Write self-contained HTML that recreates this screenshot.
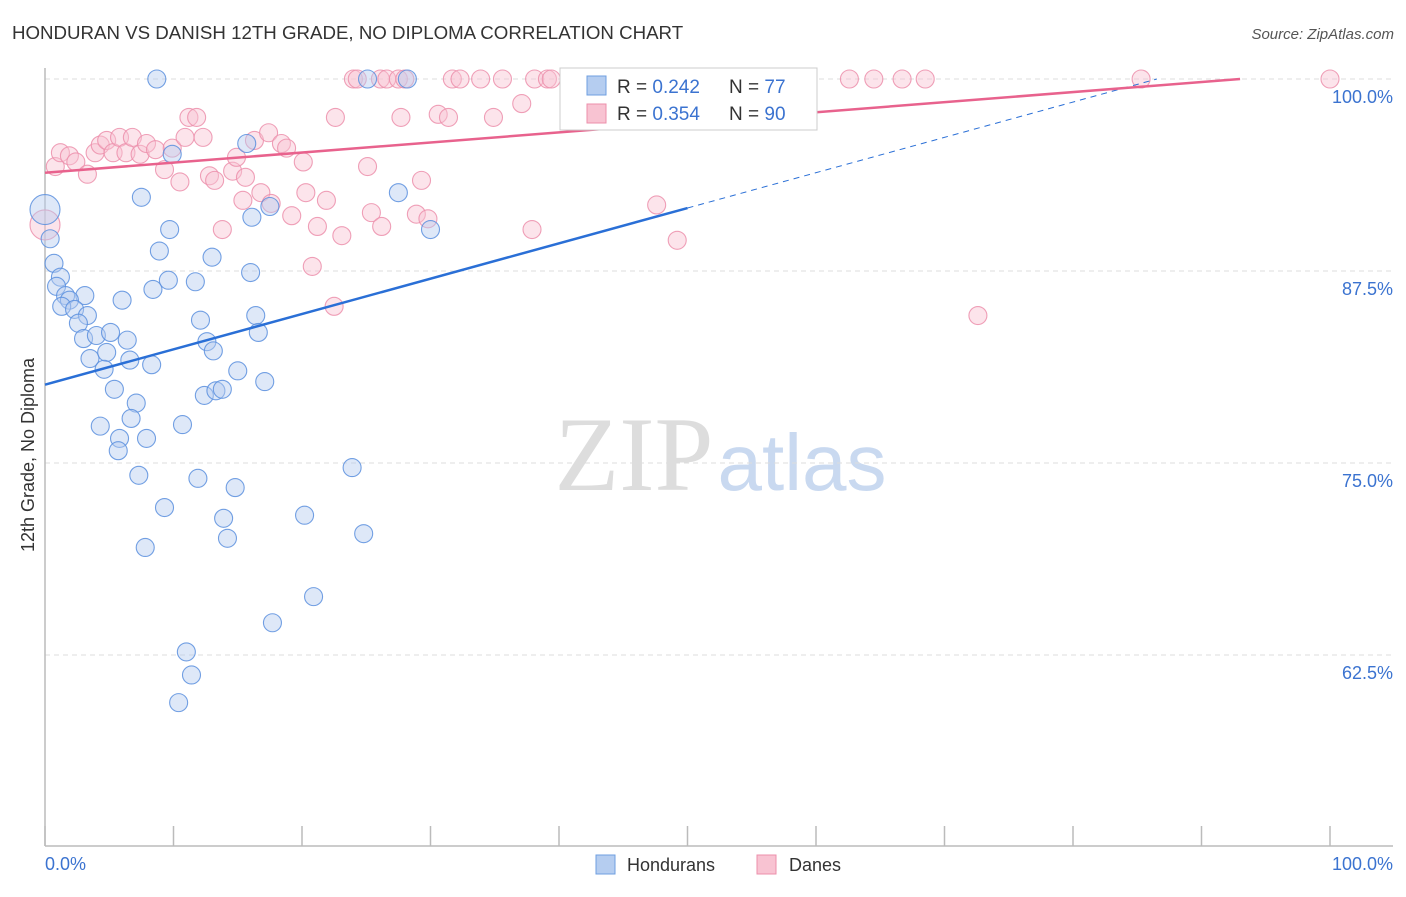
<!DOCTYPE html>
<html><head><meta charset="utf-8"><style>
body{margin:0;background:#fff;font-family:"Liberation Sans",sans-serif;}
svg text{font-family:"Liberation Sans",sans-serif;}
</style></head><body>
<svg id="chart" width="1406" height="892" viewBox="0 0 1406 892">
<text x="12" y="39" font-size="18.7" fill="#333">HONDURAN VS DANISH 12TH GRADE, NO DIPLOMA CORRELATION CHART</text>
<text x="1394" y="39" font-size="15" fill="#555" font-style="italic" text-anchor="end">Source: ZipAtlas.com</text>
<text transform="translate(34,455) rotate(-90)" font-size="18" fill="#333" text-anchor="middle">12th Grade, No Diploma</text>
<g><text x="634" y="490" font-size="106" fill="#ddd" text-anchor="middle" font-family="Liberation Serif" style="font-family:'Liberation Serif',serif">ZIP</text><text x="802" y="490" font-size="80" fill="#c9d9f0" text-anchor="middle">atlas</text></g>
<g id="grid"></g><g id="axes"></g><g id="pts"></g><g id="lines"></g>
<g>
<rect x="560" y="68" width="257" height="62" fill="#fff" stroke="#ccc"/>
<rect x="587" y="76" width="19" height="19" fill="#b5cdf0" stroke="#6f9fe0"/>
<text x="617" y="93" font-size="19" fill="#333">R = <tspan fill="#3b73d0">0.242</tspan></text>
<text x="729" y="93" font-size="19" fill="#333">N = <tspan fill="#3b73d0">77</tspan></text>
<rect x="587" y="104" width="19" height="19" fill="#f8c3d2" stroke="#ec8fab"/>
<text x="617" y="120" font-size="19" fill="#333">R = <tspan fill="#3b73d0">0.354</tspan></text>
<text x="729" y="120" font-size="19" fill="#333">N = <tspan fill="#3b73d0">90</tspan></text>
</g>
<g>
<rect x="596" y="855" width="19" height="19" fill="#b5cdf0" stroke="#6f9fe0"/>
<text x="627" y="871" font-size="18" fill="#333">Hondurans</text>
<rect x="757" y="855" width="19" height="19" fill="#f8c3d2" stroke="#ec8fab"/>
<text x="789" y="871" font-size="18" fill="#333">Danes</text>
</g>
</svg>
<script>
const yTicks=[100,87.5,75,62.5];
const yTickLabels=["100.0%","87.5%","75.0%","62.5%"];
const xTickCount=11;
const blueX=[8.7,25.1,28.2,41.5,0,0.4,0.7,1.2,0.9,1.6,3.1,1.9,1.3,2.3,3.3,2.6,6.0,7.5,9.7,8.9,13.0,16.0,8.4,9.6,11.7,12.1,16.4,16.6,3.0,4.0,5.1,6.4,3.5,4.8,6.6,4.6,8.3,12.6,13.1,5.4,15.0,17.1,7.1,12.4,13.3,13.8,6.7,4.3,10.7,5.8,7.9,5.7,7.3,11.9,14.8,9.3,13.9,14.2,20.2,7.8,23.9,24.8,20.9,17.7,11.0,11.4,10.4,15.7,9.9,16.1,17.5,27.5,30.0];
const blueY=[100,100,100,100,91.5,89.6,88.0,87.1,86.5,85.9,85.9,85.6,85.2,85.0,84.6,84.1,85.6,92.3,90.2,88.8,88.4,87.4,86.3,86.9,86.8,84.3,84.6,83.5,83.1,83.3,83.5,83.0,81.8,82.2,81.7,81.1,81.4,82.9,82.3,79.8,81.0,80.3,78.9,79.4,79.7,79.8,77.9,77.4,77.5,76.6,76.6,75.8,74.2,74.0,73.4,72.1,71.4,70.1,71.6,69.5,74.7,70.4,66.3,64.6,62.7,61.2,59.4,95.8,95.1,91.0,91.7,92.6,90.2];
const pinkX=[24.0,24.3,26.1,26.6,27.5,28.0,31.7,32.3,33.9,35.6,38.1,39.1,39.4,41.4,44.7,47.1,50.2,52.0,52.3,62.6,64.5,66.7,68.5,85.3,100,0,0.8,1.2,1.9,2.4,3.3,3.9,4.3,4.8,5.3,5.8,6.3,6.8,7.4,7.9,8.6,9.3,9.9,10.5,10.9,11.2,11.8,12.3,12.8,13.2,13.8,14.6,14.9,15.4,15.6,16.3,16.8,17.4,17.6,18.4,18.8,19.2,20.1,20.3,21.2,20.8,21.9,22.6,23.1,22.5,25.1,25.4,26.2,27.7,28.9,29.3,29.8,30.6,31.4,34.9,37.1,37.9,47.6,49.2,72.6];
const pinkY=[100,100,100,100,100,100,100,100,100,100,100,100,100,100,100,100,100,100,100,100,100,100,100,100,100,90.5,94.3,95.2,95.0,94.6,93.8,95.2,95.7,96.0,95.2,96.2,95.2,96.2,95.1,95.8,95.4,94.1,95.5,93.3,96.2,97.5,97.5,96.2,93.7,93.4,90.2,94.0,94.9,92.1,93.6,96.0,92.6,96.5,91.9,95.8,95.5,91.1,94.6,92.6,90.4,87.8,92.1,97.5,89.8,85.2,94.3,91.3,90.4,97.5,91.2,93.4,90.9,97.7,97.5,97.5,98.4,90.2,91.8,89.5,84.6];
const blueTrend=[80.1,91.6];
const pinkTrend=[93.9,100];
const X0=45,X1=1330,Y0=79,Ypx=192/12.5;
const sx=v=>X0+(X1-X0)*v/100, sy=v=>Y0+(100-v)*Ypx;
const NS="http://www.w3.org/2000/svg";
function mk(t,a,p){const e=document.createElementNS(NS,t);for(const k in a)e.setAttribute(k,a[k]);p.appendChild(e);return e;}
const grid=document.getElementById('grid'),axes=document.getElementById('axes'),pts=document.getElementById('pts'),lines=document.getElementById('lines');
yTicks.forEach((t,i)=>{
 const l=mk('line',{x1:X0,x2:1393,y1:sy(t),y2:sy(t),stroke:'#ddd','stroke-dasharray':'5,4'},grid);
 
 
 const tx=mk('text',{x:1393,y:sy(t)+24,'font-size':18,fill:'#3b73d0','text-anchor':'end'},axes);
 tx.textContent=yTickLabels[i];
 
 
});
let a=mk('line',{x1:X0,x2:X0,y1:68,y2:846,stroke:'#bbb','stroke-width':1.5},axes);


a=mk('line',{x1:X0,x2:1393,y1:846,y2:846,stroke:'#bbb','stroke-width':1.5},axes);


for(let i=0;i<xTickCount;i++){const x=sx(i*100/(xTickCount-1));
 const t=mk('line',{x1:x,x2:x,y1:826,y2:846,stroke:'#bbb','stroke-width':1.5},axes);
 
 }
let xl=mk('text',{x:45,y:870,'font-size':18,fill:'#3b73d0'},axes);xl.textContent='0.0%';


xl=mk('text',{x:1393,y:870,'font-size':18,fill:'#3b73d0','text-anchor':'end'},axes);xl.textContent='100.0%';


function dots(X,Y,fill,stroke,name){X.forEach((x,i)=>{const big=x===0;
 const c=mk('circle',{cx:sx(x),cy:sy(Y[i]),r:big?15:9,fill:fill,'fill-opacity':0.45,stroke:stroke,'stroke-width':1.1,'stroke-opacity':0.85},pts);
 
 });}
dots(pinkX,pinkY,'#f8c3d2','#ec8fab','dane-point');
dots(blueX,blueY,'#b5cdf0','#5b8fde','honduran-point');
const bs=(blueTrend[1]-blueTrend[0])/50, bEnd=(100-blueTrend[0])/bs;
let ln=mk('line',{x1:sx(0),y1:sy(blueTrend[0]),x2:sx(50),y2:sy(blueTrend[1]),stroke:'#2a6fd6','stroke-width':2.5},lines);


ln=mk('line',{x1:sx(50),y1:sy(blueTrend[1]),x2:sx(bEnd),y2:sy(100),stroke:'#2a6fd6','stroke-width':1,'stroke-dasharray':'6,5'},lines);


ln=mk('line',{x1:sx(0),y1:sy(pinkTrend[0]),x2:sx(93),y2:sy(pinkTrend[1]),stroke:'#e8628d','stroke-width':2.5},lines);


</script>
</body></html>
